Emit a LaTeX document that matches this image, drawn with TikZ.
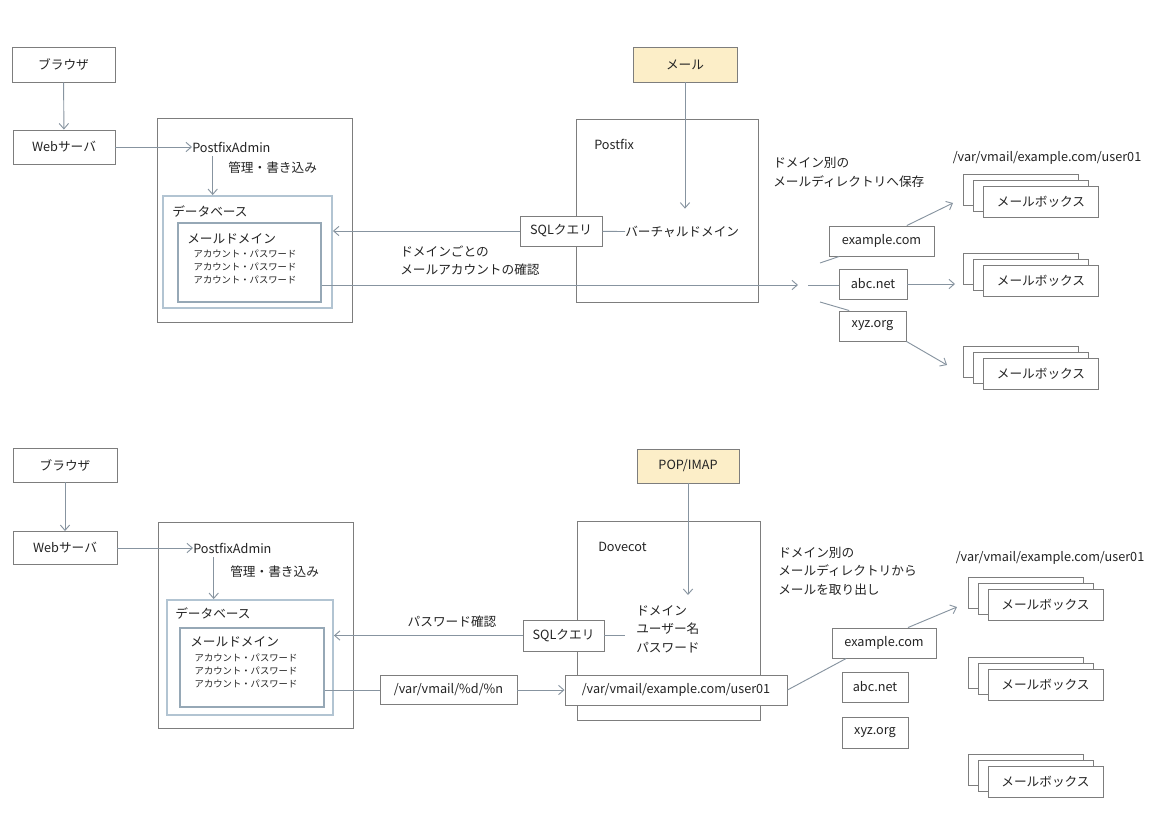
\documentclass[tikz,border=0pt]{standalone}
\usepackage{fontspec}
\setmainfont{Noto Sans CJK JP}
\usetikzlibrary{arrows.meta,shadows}
\definecolor{linegray}{RGB}{135,148,160}
\definecolor{boxgray}{RGB}{125,125,125}
\definecolor{dbblue}{RGB}{178,196,210}
\definecolor{domblue}{RGB}{150,168,182}
\definecolor{mailyellow}{RGB}{252,238,200}
\definecolor{textgray}{RGB}{35,35,35}

\begin{document}
\begin{tikzpicture}[x=0.75pt,y=-0.75pt,
  font=\fontsize{9.5pt}{14pt}\selectfont,text=textgray,
  sz/.style 2 args={minimum width=#1*0.75pt,minimum height=#2*0.75pt},
  gbox/.style={draw=boxgray,fill=white,inner sep=0pt,line width=0.7pt},
  ybox/.style={gbox,fill=mailyellow},
  dbbox/.style={draw=dbblue,line width=1.4pt,inner sep=0pt},
  dombox/.style={draw=domblue,line width=0.8pt,inner sep=0pt},
  mbox/.style={gbox,sz={115}{31},double copy shadow={shadow xshift=-7.5pt,shadow yshift=4.5pt}},
  lbl/.style={inner sep=0pt,anchor=west},
  acct/.style={font=\fontsize{7pt}{9.5pt}\selectfont,align=center,inner sep=0pt},
  conn/.style={draw=linegray,line width=0.7pt},
  arr/.style={conn,-{Straight Barb[length=4pt,width=7pt]}}]
  \useasboundingbox (0,0) rectangle (1159,817);
  \node[gbox,sz={103}{35}] (brw1) at (63.5,64.5) {ブラウザ};
  \node[gbox,sz={102}{34}] (web1) at (64,147) {Webサーバ};
  \draw[arr] (brw1) -- (web1);
  \node[gbox,sz={195}{204}] (adm1) at (254.5,220) {};
  \node[lbl] (padm1) at (192,147) {PostfixAdmin};
  \draw[arr] (web1) -- (padm1);
  \node[dbbox,sz={169}{112}] (db1) at (247.5,252) {};
  \draw[arr,shorten <=3pt] ([xshift=-14pt]padm1.south) -- ([xshift=-14pt]padm1.south |- db1.north);
  \node[lbl] (kanri1) at (228,168) {管理・書き込み};
  \node[lbl] (dbl1) at (172,211) {データベース};
  \node[dombox,sz={143}{79}] (dom1) at (249.5,262.5) {};
  \node[lbl] (mdom1) at (187,239) {メールドメイン};
  \node[acct] (acc1) at (245,267) {アカウント・パスワード\\アカウント・パスワード\\アカウント・パスワード};
  \node[gbox,fill=none,sz={182}{183}] (pf1) at (667,210.5) {};
  \node[lbl] (pfl1) at (594,144) {Postfix};
  \node[ybox,sz={104}{35}] (mail1) at (685,64.5) {メール};
  \node[gbox,sz={82}{30}] (sql1) at (561,231) {SQLクエリ};
  \node[lbl] (vd1) at (625,232) {バーチャルドメイン};
  \draw[arr,shorten >=13pt] (mail1) -- (mail1.south |- vd1.north);
  \draw[conn] (sql1) -- (vd1);
  \draw[arr] (sql1.west) -- (sql1.west -| db1.east);
  \node[lbl,align=left] (chk1) at (400,260.5) {ドメインごとの\\メールアカウントの確認};
  \coordinate (fan1) at (798,285);
  \draw[arr] (dom1.east |- fan1) -- (fan1);
  \node[gbox,sz={105}{30}] (ex1) at (881.5,241) {example.com};
  \node[gbox,sz={68}{30}] (abc1) at (873,284) {abc.net};
  \node[gbox,sz={67}{30}] (xyz1) at (872.5,326) {xyz.org};
  \coordinate (fa1) at (820,263);
  \coordinate (fb1) at (808,285);
  \coordinate (fc1) at (820,302);
  \draw[conn] (fa1) -- ([xshift=8pt]ex1.south west);
  \draw[conn] (fb1) -- (fb1 -| abc1.west);
  \draw[conn] (fc1) -- ([xshift=8pt]xyz1.north west);
  \node[mbox] (mb1) at (1041,201.5) {メールボックス};
  \node[mbox] (mb2) at (1041,281) {メールボックス};
  \node[mbox] (mb3) at (1041,374) {メールボックス};
  \coordinate (in1) at (953,203);
  \coordinate (in2) at (955,284);
  \coordinate (in3) at (947,365);
  \draw[arr] ([xshift=19pt]ex1.north) -- (in1);
  \draw[arr] (abc1.east) -- (in2);
  \draw[arr] (xyz1.south east) -- (in3);
  \node[lbl,align=left] (save1) at (773,172) {ドメイン別の\\メールディレクトリへ保存};
  \node[inner sep=0pt] (path1) at (1047,158) {/var/vmail/example.com/user01};

  \node[gbox,sz={104}{34}] (brw2) at (65,465) {ブラウザ};
  \node[gbox,sz={104}{33}] (web2) at (65,548) {Webサーバ};
  \draw[arr] (brw2) -- (web2);
  \node[gbox,sz={195}{206}] (adm2) at (255.5,625) {};
  \node[lbl] (padm2) at (193,548) {PostfixAdmin};
  \draw[arr] (web2) -- (padm2);
  \node[dbbox,sz={166}{115}] (db2) at (250,657.5) {};
  \draw[arr,shorten <=3pt] ([xshift=-14pt]padm2.south) -- ([xshift=-14pt]padm2.south |- db2.north);
  \node[lbl] (kanri2) at (230,572) {管理・書き込み};
  \node[lbl] (dbl2) at (175,613) {データベース};
  \node[dombox,sz={144}{79}] (dom2) at (252,667.5) {};
  \node[lbl] (mdom2) at (190,642) {メールドメイン};
  \node[acct] (acc2) at (246,671) {アカウント・パスワード\\アカウント・パスワード\\アカウント・パスワード};
  \node[ybox,sz={102}{34}] (pop2) at (688,466) {POP/IMAP};
  \node[gbox,fill=none,sz={183}{199}] (dv2) at (668.5,620.5) {};
  \node[lbl] (dvl2) at (598,547) {Dovecot};
  \node[lbl,align=left] (usr2) at (636,629) {ドメイン\\ユーザー名\\パスワード};
  \coordinate (dvin) at (688,595);
  \draw[arr] (pop2) -- (dvin);
  \node[gbox,sz={81}{31}] (sql2) at (563.5,635.5) {SQLクエリ};
  \draw[conn,shorten >=8pt] (sql2.east) -- (sql2.east -| usr2.west);
  \draw[arr] (sql2.west) -- (sql2.west -| db2.east);
  \node[inner sep=0pt] (pw2) at (452,622) {パスワード確認};
  \node[gbox,sz={137}{29}] (vp2) at (448.5,690) {/var/vmail/\%d/\%n};
  \node[gbox,sz={222}{30}] (vex2) at (676,690) {/var/vmail/example.com/user01};
  \draw[conn] (dom2.east |- vp2.west) -- (vp2.west);
  \draw[arr] (vp2) -- (vex2);
  \node[lbl,align=left] (get2) at (778,571) {ドメイン別の\\メールディレクトリから\\メールを取り出し};
  \node[inner sep=0pt] (path2) at (1050,558) {/var/vmail/example.com/user01};
  \node[gbox,sz={104}{30}] (ex2) at (884,643) {example.com};
  \node[gbox,sz={66}{30}] (abc2) at (875,687) {abc.net};
  \node[gbox,sz={66}{31}] (xyz2) at (875,732.5) {xyz.org};
  \draw[conn] (vex2.east) -- ([xshift=11pt]ex2.south west);
  \node[mbox] (mb4) at (1045.5,604.5) {メールボックス};
  \node[mbox] (mb5) at (1045.5,685) {メールボックス};
  \node[mbox] (mb6) at (1045.5,781.5) {メールボックス};
  \coordinate (in4) at (957,607);
  \draw[arr] ([xshift=18pt]ex2.north) -- (in4);
\end{tikzpicture}
\end{document}
